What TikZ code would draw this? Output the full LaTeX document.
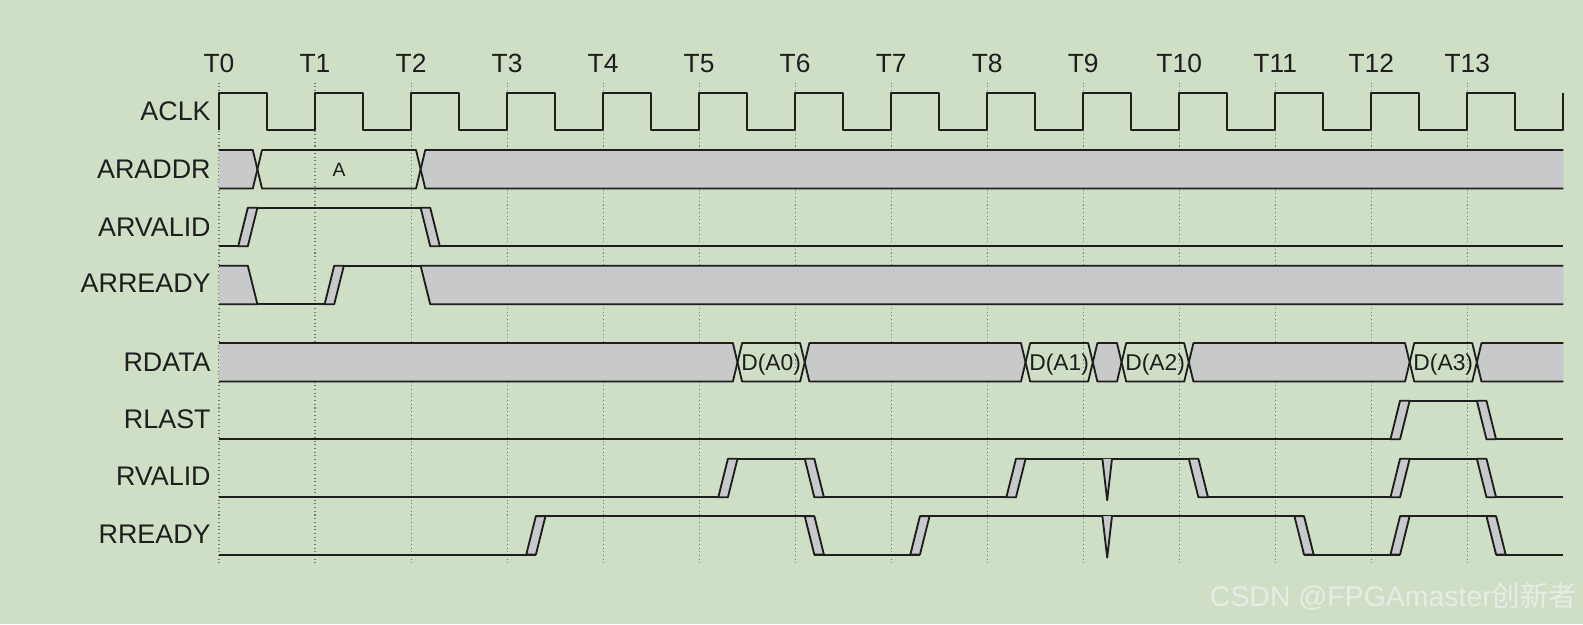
\documentclass[tikz,border=0pt]{standalone}
\usepackage{fontspec}
\setmainfont{Liberation Sans}
\newfontfamily\cjkfont{Noto Sans CJK SC}
\usepackage{tikz}
\definecolor{bggreen}{HTML}{CFDFC5}
\definecolor{busgray}{HTML}{C8C9CB}
\definecolor{sigline}{HTML}{1E1E1E}
\definecolor{gridgray}{HTML}{6F7A6C}
\definecolor{markwhite}{HTML}{E8ECE6}
% edges of one row: levels at 0 (high) and 38.5 (low)
\newcommand{\riseedge}[1]{\path[slew] (#1,38.5) -- ++(0.1,0) -- ++(0.1,-38.5) -- ++(-0.1,0) -- cycle;}
\newcommand{\falledge}[1]{\path[slew] (#1,0) -- ++(0.1,0) -- ++(0.1,38.5) -- ++(-0.1,0) -- cycle;}
\newcommand{\glitch}[1]{\path[slew] (#1-0.05,0) -- (#1,41.5) -- (#1+0.05,0);}
\newcommand{\busseg}[3]{\path[#1] (#2,19.25) -- (#2+0.048,0) -- (#3-0.048,0) -- (#3,19.25) -- (#3-0.048,38.5) -- (#2+0.048,38.5) -- cycle;}

\begin{document}
\begin{tikzpicture}[x=1.9204cm, y=-0.02cm, line join=round,
  sig/.style={draw=sigline, line width=1.05pt},
  slew/.style={sig, fill=busgray},
  tick/.style={draw=gridgray, line width=0.6pt, dash pattern=on 0.6pt off 1.5pt},
  siglabel/.style={anchor=east, inner sep=0pt, text=sigline, font=\fontsize{15.3}{15.3}\selectfont, text height=10.95pt, text depth=0pt},
  tlabel/.style={inner sep=0pt, text=sigline, font=\fontsize{15}{15}\selectfont, text height=10.74pt, text depth=0pt},
  datalabel/.style={inner sep=0pt, text=sigline, font=\fontsize{13}{13}\selectfont, text height=9.3pt, text depth=0pt}]
  % Background
  \fill[bggreen] (-2.2808,0) rectangle (14.2054,624);

  % Clock ticks and grid
  \foreach \k in {0,...,13} {
    \node[tlabel] (t\k) at (\k,63.3) {T\k};
    \draw[tick] (\k,82.7) -- (\k,563.3);
  }

  % Signal names
  \node[siglabel] (lblaclk) at (-0.0833,111) {ACLK};
  \node[siglabel] (lblaraddr) at (-0.0833,169.3) {ARADDR};
  \node[siglabel] (lblarvalid) at (-0.0833,226.7) {ARVALID};
  \node[siglabel] (lblarready) at (-0.0833,283.3) {ARREADY};
  \node[siglabel] (lblrdata) at (-0.0833,361.7) {RDATA};
  \node[siglabel] (lblrlast) at (-0.0833,418.3) {RLAST};
  \node[siglabel] (lblrvalid) at (-0.0833,476) {RVALID};
  \node[siglabel] (lblrready) at (-0.0833,533.3) {RREADY};

  % ACLK
  \begin{scope}[shift={(0,92.7)}]
    \draw[sig] (0,37.6) \foreach \k in {0,...,13} { -- (\k,0) -- (\k+0.5,0) -- (\k+0.5,37.6) -- (\k+1,37.6) } -- (14,0);
  \end{scope}

  % ARADDR
  \begin{scope}[shift={(0,150)}]
    \path[slew] (0,0) -- (0.352,0) -- (0.4,19.25) -- (0.352,38.5) -- (0,38.5);
    \busseg{sig}{0.4}{2.1}
    \node[datalabel, font=\fontsize{11}{11}\selectfont, text height=7.9pt] (addra) at (1.25,19.25) {A};
    \path[slew] (14,0) -- (2.148,0) -- (2.1,19.25) -- (2.148,38.5) -- (14,38.5);
  \end{scope}

  % ARVALID
  \begin{scope}[shift={(0,207.7)}]
    \draw[sig] (0,38.5) -- (0.3,38.5) (0.3,0) -- (2.2,0) (2.2,38.5) -- (14,38.5);
    \riseedge{0.2}
    \falledge{2.1}
  \end{scope}

  % ARREADY
  \begin{scope}[shift={(0,265.7)}]
    \path[slew] (0,0) -- (0.3,0) -- (0.4,38.5) -- (0,38.5);
    \draw[sig] (0.4,38.5) -- (1.2,38.5) (1.2,0) -- (2.1,0);
    \riseedge{1.1}
    \path[slew] (14,0) -- (2.1,0) -- (2.2,38.5) -- (14,38.5);
  \end{scope}

  % RDATA
  \begin{scope}[shift={(0,343)}]
    \path[slew] (0,0) -- (5.352,0) -- (5.4,19.25) -- (5.352,38.5) -- (0,38.5);
    \busseg{sig}{5.4}{6.1}
    \busseg{slew}{6.1}{8.4}
    \busseg{sig}{8.4}{9.1}
    \busseg{slew}{9.1}{9.4}
    \busseg{sig}{9.4}{10.1}
    \busseg{slew}{10.1}{12.4}
    \busseg{sig}{12.4}{13.1}
    \path[slew] (14,0) -- (13.148,0) -- (13.1,19.25) -- (13.148,38.5) -- (14,38.5);
    \node[datalabel] (da0) at (5.75,19.25) {D(A0)};
    \node[datalabel] (da1) at (8.75,19.25) {D(A1)};
    \node[datalabel] (da2) at (9.75,19.25) {D(A2)};
    \node[datalabel] (da3) at (12.75,19.25) {D(A3)};
  \end{scope}

  % RLAST
  \begin{scope}[shift={(0,400.7)}]
    \draw[sig] (0,38.5) -- (12.3,38.5) (12.3,0) -- (13.2,0) (13.2,38.5) -- (14,38.5);
    \riseedge{12.2}
    \falledge{13.1}
  \end{scope}

  % RVALID
  \begin{scope}[shift={(0,458.7)}]
    \draw[sig] (0,38.5) -- (5.3,38.5) (5.3,0) -- (6.2,0) (6.2,38.5) -- (8.3,38.5)
      (8.3,0) -- (10.2,0) (10.2,38.5) -- (12.3,38.5) (12.3,0) -- (13.2,0) (13.2,38.5) -- (14,38.5);
    \riseedge{5.2}
    \falledge{6.1}
    \riseedge{8.2}
    \glitch{9.25}
    \falledge{10.1}
    \riseedge{12.2}
    \falledge{13.1}
  \end{scope}

  % RREADY
  \begin{scope}[shift={(0,516)}]
    \draw[sig] (0,38.5) -- (3.3,38.5) (3.3,0) -- (6.2,0) (6.2,38.5) -- (7.3,38.5)
      (7.3,0) -- (11.3,0) (11.3,38.5) -- (12.3,38.5) (12.3,0) -- (13.3,0) (13.3,38.5) -- (14,38.5);
    \riseedge{3.2}
    \falledge{6.1}
    \riseedge{7.2}
    \glitch{9.25}
    \falledge{11.2}
    \riseedge{12.2}
    \falledge{13.2}
  \end{scope}

  % Watermark
  \node[anchor=east, inner sep=0pt, text=markwhite, font=\fontsize{16.2}{16.2}\selectfont] (mark) at (14.15,596) {CSDN @FPGAmaster{\cjkfont 创新者}};
\end{tikzpicture}
\end{document}
